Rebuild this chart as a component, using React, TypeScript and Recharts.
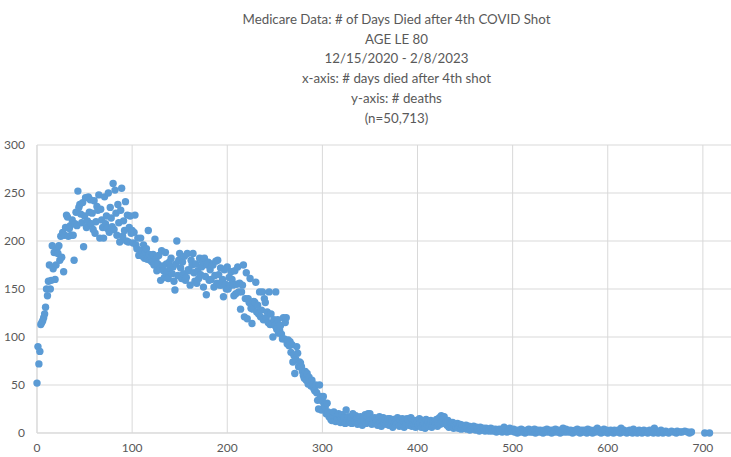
import { ScatterChart, Scatter, XAxis, YAxis, CartesianGrid } from "recharts";

const titleLines = [
  "Medicare Data: # of Days Died after 4th COVID Shot",
  "AGE LE 80",
  "12/15/2020 - 2/8/2023",
  "x-axis: # days died after 4th shot",
  "y-axis: # deaths",
  "(n=50,713)",
];

const xTicks = [0, 100, 200, 300, 400, 500, 600, 700];
const yTicks = [0, 50, 100, 150, 200, 250, 300];

// deaths per day after the 4th shot, index = day (null = no point)
const deaths0to99 = [
  52, 90, 72, 85, 113, 115, 117, 120, 124, 131,
  150, 143, 158, 175, 150, 159, 195, 171, 188, 160,
  175, 192, 187, 195, 180, 205, 183, 209, 168, 206,
  214, 227, 225, 205, 213, 216, 206, 222, 206, 180,
  218, 230, 216, 252, 235, 238, 228, 219, 240, 194,
  226, 245, 214, 221, 246, 230, 243, 218, 229, 212,
  242, 208, 220, 236, 232, 248, 203, 233, 222, 214,
  203, 246, 218, 226, 213, 250, 209, 235, 224, 215,
  260, 212, 253, 229, 206, 238, 219, 199, 232, 255,
  205, 221, 211, 241, 200, 227, 199, 214, 226, 208,
];

const deaths100to199 = [
  211, 198, 209, 227, 196, 192, 203, 185, 190, 203,
  190, 184, 196, 182, 188, 192, 181, 211, 186, 180,
  183, 178, 186, 175, 202, 181, 169, 176, 185, 171,
  159, 190, 174, 169, 162, 188, 176, 168, 161, 178,
  172, 182, 166, 173, 158, 149, 176, 200, 164, 180,
  187, 172, 161, 178, 166, 184, 159, 162, 187, 170,
  169, 154, 180, 175, 187, 167, 158, 176, 156, 169,
  161, 182, 165, 173, 178, 152, 182, 163, 144, 175,
  178, 159, 170, 160, 176, 175, 152, 164, 179, 156,
  180, 165, 154, 172, 154, 160, 142, 170, 155, 150,
];

const deaths200to299 = [
  173, 150, 162, 154, 168, 160, 154, 143, 169, 145,
  155, 173, 147, 156, 129, 147, 154, 175, 121, 140,
  167, 119, 140, 136, 161, 130, 114, 129, 137, 136,
  157, 126, 133, 124, 147, 121, 128, 147, 118, 140,
  136, 120, 126, 115, 147, 113, 124, 114, 100, 118,
  112, 147, 108, 118, 104, 107, 112, 103, 98, 120,
  98, 115, 120, 93, 97, 91, 95, 84, 92, 74,
  81, 62, 77, 90, 83, 69, 74, 73, 69, 64,
  60, 57, 64, 55, 62, 51, 58, 52, 49, 55,
  50, 46, 44, 50, 42, 34, 25, 50, 38, 24,
];

const deaths300to399 = [
  33, 38, 29, 27, 20, 31, 22, 17, 20, 14,
  13, 18, 22, 15, 12, 17, 14, 20, 13, 11,
  15, 19, 12, 16, 10, 24, 14, 17, 11, 13,
  16, 10, 20, 13, 12, 18, 15, 9, 14, 11,
  17, 12, 8, 15, 13, 19, 10, 18, 20, 12,
  20, 11, 9, 15, 12, 16, 10, 13, 8, 14,
  17, 11, 7, 13, 16, 10, 14, 9, 12, 15,
  8, 15, 11, 13, 6, 14, 10, 12, 9, 16,
  11, 7, 13, 9, 15, 12, 6, 14, 10, 15,
  14, 8, 11, 16, 7, 12, 9, 13, 6, 10,
];

const deaths400to499 = [
  12, 8, 15, 10, 6, 13, 9, 11, 5, 14,
  9, 12, 7, 10, 13, 6, 11, 8, 12, 9,
  14, 7, 10, 16, 9, 18, 12, 15, 17, 10,
  11, 8, 13, 6, 10, 9, 7, 11, 5, 9,
  8, 6, 10, 5, 7, 9, 4, 8, 6, 7,
  5, 8, 4, 6, 7, 3, 5, 6, 4, 7,
  5, 3, 6, 4, 5, 2, 6, 4, 3, 5,
  4, 2, 5, 3, 4, 2, 3, 5, 2, 4,
  3, 2, 4, 1, 3, 2, 4, 3, 2, 1,
  3, 6, 2, 4, 1, 3, 2, 5, 2, 3,
];

const deaths500to599 = [
  2, 4, 1, 3, 2, 0, 3, 1, 2, 4,
  1, 3, 2, 0, 2, 3, 1, 4, 2, 1,
  3, 1, 2, 4, 0, 2, 3, 1, 2, 3,
  1, 2, 0, 3, 2, 1, 4, 2, 1, 3,
  2, 0, 3, 1, 2, 4, 1, 2, 3, 1,
  0, 2, 3, 5, 1, 2, 4, 1, 3, 2,
  1, 3, 2, 0, 2, 1, 3, 2, 4, 1,
  2, 0, 3, 1, 2, 3, 1, 2, 0, 4,
  1, 2, 3, 1, 0, 2, 3, 1, 2, 5,
  2, 1, 3, 0, 2, 1, 4, 2, 1, 3,
];

const deaths600to709 = [
  0, 2, 1, 3, 2, 1, 0, 3, 2, 1,
  2, 3, 1, 0, 5, 2, 1, 3, 2, 1,
  0, 2, 1, 3, 1, 2, 0, 4, 1, 2,
  1, 0, 2, 3, 1, 2, 0, 1, 3, 2,
  1, 2, 0, 1, 3, 1, null, 2, 0, 5,
  1, null, 2, 0, null, 1, 3, null, 0, 1,
  null, 2, 1, null, 0, null, null, 2, null, 1,
  null, null, 0, 2, null, null, 1, null, 1, null,
  null, 2, null, null, 1, null, 0, null, 1, null,
  null, null, null, null, null, null, null, null, null, null,
  null, null, 0, null, null, null, null, 0, null, null,
];

const allDeaths: (number | null)[] = [
  ...deaths0to99,
  ...deaths100to199,
  ...deaths200to299,
  ...deaths300to399,
  ...deaths400to499,
  ...deaths500to599,
  ...deaths600to709,
];

const chartData = allDeaths
  .map((deaths, day) => ({ day, deaths }))
  .filter((d) => d.deaths !== null);

const GRAY = "#595959";
const GRID = "#d9d9d9";

const Dot = (props: any) => (
  <circle cx={props.cx} cy={props.cy} r={3.7} fill="#5b9bd5" />
);

export default function App() {
  return (
    <div
      style={{
        position: "fixed",
        top: 0,
        left: 0,
        width: 731,
        height: 457,
        overflow: "hidden",
        background: "#fff",
        fontFamily: "Lato, sans-serif",
      }}
    >
      <div
        style={{
          position: "absolute",
          top: 10,
          left: 0,
          width: 793,
          textAlign: "center",
          color: GRAY,
          fontSize: 13.3,
          lineHeight: "19.7px",
        }}
      >
        {titleLines.map((t) => (
          <div key={t}>{t}</div>
        ))}
      </div>
      {/* plot runs past the right edge, like the cropped original */}
      <ScatterChart
        width={820}
        height={457}
        margin={{ top: 145, right: 22, bottom: 4, left: 7 }}
      >
        <CartesianGrid stroke={GRID} />
        <XAxis
          type="number"
          dataKey="day"
          domain={[0, 800]}
          ticks={xTicks}
          interval={0}
          height={20}
          tickLine={false}
          tickSize={6}
          tickMargin={4}
          axisLine={{ stroke: GRID }}
          tick={{ fill: GRAY, fontSize: 12 }}
        />
        <YAxis
          type="number"
          dataKey="deaths"
          domain={[0, 300]}
          ticks={yTicks}
          interval={0}
          width={30}
          tickLine={false}
          tickSize={6}
          tickMargin={6}
          axisLine={{ stroke: GRID }}
          tick={{ fill: GRAY, fontSize: 12 }}
        />
        <Scatter data={chartData} shape={Dot} isAnimationActive={false} />
      </ScatterChart>
    </div>
  );
}
